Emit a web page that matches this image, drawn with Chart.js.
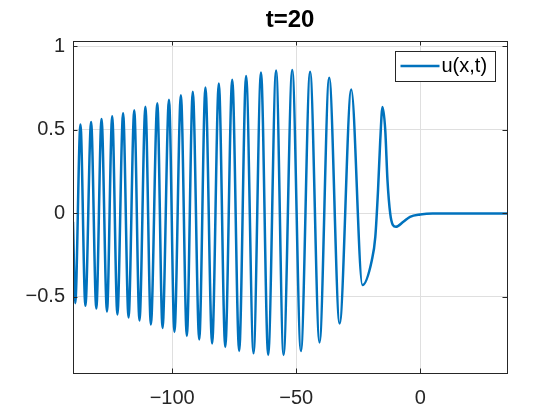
<!DOCTYPE html>
<html lang="en">
<head>
  <meta charset="UTF-8">
  <title>t=20</title>
  <script src="https://cdn.jsdelivr.net/npm/chart.js@4"></script>
  <style>
    body { margin: 0; background: #fff; }
    #wrap { width: 560px; height: 420px; }
  </style>
</head>
<body>
  <div id="wrap"><canvas id="waveChart" width="560" height="420"></canvas></div>
  <script>
    // wave train: start point then alternating troughs / peaks
    const trainX = [-140, -139.1, -137.0, -135.0, -132.7, -130.6, -128.5, -126.3, -124.2, -122.1, -119.8,
                    -117.6, -115.3, -113.2, -110.8, -108.6, -106.0, -103.9, -101.3, -99.1, -96.5,
                    -94.1, -91.7, -89.1, -86.6, -83.9, -81.2, -78.6, -75.8, -73.0, -70.2,
                    -67.2, -64.2, -61.3, -58.1, -55.1, -51.6, -48.1, -44.4, -40.6, -36.7,
                    -32.5, -27.8, -23.3];
    const trainY = [-0.05, -0.537, 0.533, -0.553, 0.547, -0.569, 0.565, -0.587, 0.581, -0.605, 0.599,
                    -0.623, 0.617, -0.641, 0.638, -0.665, 0.659, -0.685, 0.680, -0.709, 0.708,
                    -0.733, 0.728, -0.754, 0.754, -0.778, 0.778, -0.799, 0.800, -0.823, 0.822,
                    -0.837, 0.844, -0.847, 0.856, -0.847, 0.858, -0.824, 0.848, -0.772, 0.812,
                    -0.659, 0.742, -0.429];
    // leading pulse and flat tail
    const frontX = [-19.5, -18.1, -17.0, -16.1, -15.2, -14.1, -13.2, -12.1, -11.0, -9.8, -6.8, -4.1, 0, 5, 35];
    const frontY = [-0.28, -0.14, 0.14, 0.44, 0.637, 0.50, 0.20, 0.0, -0.07, -0.080, -0.05, -0.02, -0.006, 0, 0];

    const xTicks = [-100, -50, 0];
    const yTicks = [-0.5, 0, 0.5, 1];
    const titleText = 't=20';
    const seriesName = 'u(x,t)';

    const lineColor = '#0072BD';
    const axisColor = '#262626';
    const fontFamily = '"Liberation Sans", Arial, Helvetica, sans-serif';

    const points = [];
    trainX.forEach((x, i) => points.push({ x: x, y: trainY[i] }));
    frontX.forEach((x, i) => points.push({ x: x, y: frontY[i] }));

    function fmt(v) {
      return v < 0 ? '\u2212' + String(Math.abs(v)) : String(v);
    }

    // box, inward ticks on all four sides, title and legend (MATLAB look)
    const matlabFrame = {
      id: 'matlabFrame',
      afterDatasetsDraw(chart) {
        const ctx = chart.ctx;
        const a = chart.chartArea;
        const xs = chart.scales.x, ys = chart.scales.y;
        const tl = 4.5;
        ctx.save();
        ctx.strokeStyle = axisColor;
        ctx.lineWidth = 1;
        ctx.beginPath();
        xTicks.forEach(v => {
          const px = Math.round(xs.getPixelForValue(v)) + 0.5;
          ctx.moveTo(px, a.bottom); ctx.lineTo(px, a.bottom - tl);
          ctx.moveTo(px, a.top); ctx.lineTo(px, a.top + tl);
        });
        yTicks.forEach(v => {
          const py = Math.round(ys.getPixelForValue(v)) + 0.5;
          ctx.moveTo(a.left, py); ctx.lineTo(a.left + tl, py);
          ctx.moveTo(a.right, py); ctx.lineTo(a.right - tl, py);
        });
        ctx.stroke();
        ctx.strokeRect(Math.round(a.left) + 0.5, Math.round(a.top) + 0.5,
                       Math.round(a.right - a.left), Math.round(a.bottom - a.top));
        ctx.restore();
      },
      afterDraw(chart) {
        const ctx = chart.ctx;
        const a = chart.chartArea;
        ctx.save();
        // title
        ctx.fillStyle = '#000';
        ctx.font = 'bold 24px ' + fontFamily;
        ctx.textAlign = 'center';
        ctx.textBaseline = 'middle';
        ctx.fillText(titleText, (a.left + a.right) / 2, 20);
        // legend
        const bx = 395.5, by = 51.5, bw = 100, bh = 30;
        ctx.fillStyle = '#fff';
        ctx.fillRect(bx, by, bw, bh);
        ctx.strokeStyle = axisColor;
        ctx.lineWidth = 1;
        ctx.strokeRect(bx, by, bw, bh);
        ctx.strokeStyle = lineColor;
        ctx.lineWidth = 2.5;
        ctx.beginPath();
        ctx.moveTo(bx + 5, by + 14.5);
        ctx.lineTo(bx + 44, by + 14.5);
        ctx.stroke();
        ctx.fillStyle = '#000';
        ctx.font = '20px ' + fontFamily;
        ctx.textAlign = 'left';
        ctx.fillText(seriesName, bx + 46, by + 15);
        ctx.restore();
      }
    };

    new Chart(document.getElementById('waveChart'), {
      type: 'line',
      data: {
        datasets: [{
          label: seriesName,
          data: points,
          borderColor: lineColor,
          borderWidth: 2.5,
          pointRadius: 0,
          fill: false,
          cubicInterpolationMode: 'monotone'
        }]
      },
      options: {
        responsive: false,
        animation: false,
        devicePixelRatio: 1,
        layout: { padding: { top: 41, right: 53, left: 0, bottom: 0 } },
        plugins: {
          legend: { display: false },
          title: { display: false },
          tooltip: { enabled: false }
        },
        scales: {
          x: {
            type: 'linear',
            min: -140,
            max: 35,
            afterBuildTicks: s => { s.ticks = xTicks.map(v => ({ value: v })); },
            afterFit: s => { s.height = 47; },
            border: { display: false },
            grid: { color: '#dfdfdf', drawTicks: false },
            ticks: {
              padding: 13,
              color: axisColor,
              font: { family: fontFamily, size: 20 },
              callback: v => fmt(v),
              maxRotation: 0
            }
          },
          y: {
            type: 'linear',
            min: -0.955,
            max: 1.032,
            afterBuildTicks: s => { s.ticks = yTicks.map(v => ({ value: v })); },
            afterFit: s => { s.width = 73; },
            border: { display: false },
            grid: { color: '#dfdfdf', drawTicks: false },
            ticks: {
              padding: 8,
              color: axisColor,
              font: { family: fontFamily, size: 20 },
              callback: v => fmt(v)
            }
          }
        }
      },
      plugins: [matlabFrame]
    });
  </script>
</body>
</html>
